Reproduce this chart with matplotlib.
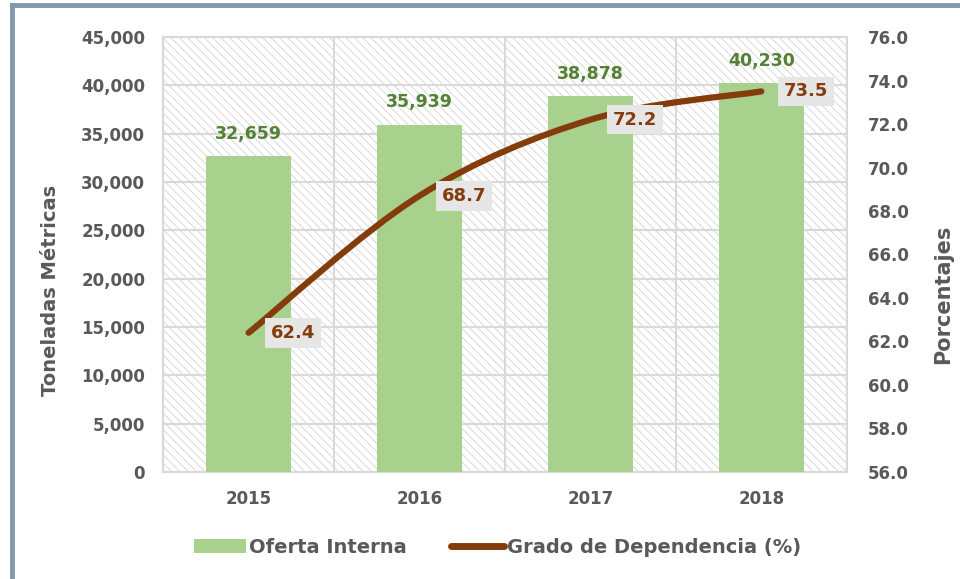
import matplotlib
matplotlib.use('Agg')
from matplotlib import pyplot as plt
from matplotlib.patches import Rectangle, Patch
from matplotlib.lines import Line2D
from matplotlib.path import Path
from matplotlib.patches import PathPatch

# datos
anios = ['2015', '2016', '2017', '2018']
oferta = [32659, 35939, 38878, 40230]
dependencia = [62.4, 68.7, 72.2, 73.5]

verde = '#a9d18e'
verde_txt = '#548235'
cafe = '#843c0c'
gris_txt = '#595959'
gris_grid = '#d9d9d9'

plt.rcParams['font.family'] = ['DejaVu Sans']
plt.rcParams['hatch.linewidth'] = 0.6
plt.rcParams['hatch.color'] = '#d2d2d2'


def curva_suave(xs, ys):
    # curva tipo Excel (Catmull-Rom -> Bezier)
    pts = list(zip(xs, ys))
    verts = [pts[0]]
    codes = [Path.MOVETO]
    n = len(pts)
    for i in range(n - 1):
        p0 = pts[i - 1] if i > 0 else pts[i]
        p1 = pts[i]
        p2 = pts[i + 1]
        p3 = pts[i + 2] if i + 2 < n else pts[i + 1]
        c1 = (p1[0] + (p2[0] - p0[0]) / 6, p1[1] + (p2[1] - p0[1]) / 6)
        c2 = (p2[0] - (p3[0] - p1[0]) / 6, p2[1] - (p3[1] - p1[1]) / 6)
        verts += [c1, c2, p2]
        codes += [Path.CURVE4] * 3
    return Path(verts, codes)


def main():
    fig = plt.figure(figsize=(9.6, 5.79), dpi=100)
    ax = fig.add_axes([0.170, 0.185, 0.712, 0.751])
    x = list(range(len(anios)))

    # fondo rayado
    ax.add_patch(Rectangle((0, 0), 1, 1, transform=ax.transAxes, facecolor='white',
                           edgecolor='#d2d2d2', hatch='\\\\\\\\', lw=0, zorder=0))

    ax.bar(x, oferta, width=0.5, color=verde, zorder=3)
    for xi, v in zip(x, oferta):
        ax.annotate(f'{v:,}', (xi, v), xytext=(0, 16), textcoords='offset points',
                    ha='center', va='center', color=verde_txt, fontsize=12.5,
                    fontweight='bold', zorder=5)

    ax.set_xlim(-0.5, 3.5)
    ax.set_ylim(0, 45000)
    ax.set_yticks(range(0, 45001, 5000))
    ax.set_yticklabels([f'{v:,}' for v in range(0, 45001, 5000)])
    ax.set_xticks(x)
    ax.set_xticklabels(anios)
    ax.set_xticks([-0.5, 0.5, 1.5, 2.5, 3.5], minor=True)
    ax.grid(True, axis='y', color=gris_grid, lw=1.5, zorder=1)
    ax.grid(True, axis='x', which='minor', color=gris_grid, lw=1.5, zorder=1)
    ax.set_axisbelow(True)
    ax.tick_params(axis='both', which='both', length=0, colors=gris_txt, labelsize=12)
    ax.tick_params(axis='y', pad=13)
    ax.tick_params(axis='x', pad=13)
    for lab in ax.get_xticklabels() + ax.get_yticklabels():
        lab.set_fontweight('bold')
    for s in ax.spines.values():
        s.set_color(gris_grid)
        s.set_linewidth(1.5)

    ax2 = ax.twinx()
    ax2.set_ylim(56, 76)
    ax2.set_yticks([56 + 2 * i for i in range(11)])
    ax2.set_yticklabels([f'{56 + 2 * i:.1f}' for i in range(11)])
    ax2.tick_params(axis='y', length=0, colors=gris_txt, labelsize=12, pad=15)
    for lab in ax2.get_yticklabels():
        lab.set_fontweight('bold')
    for s in ax2.spines.values():
        s.set_visible(False)

    # titulos de ejes (posicion como en el original)
    fig.text(51 / 960, 1 - 290 / 579, 'Toneladas Métricas', rotation=90, ha='center',
             va='center', fontsize=14, fontweight='bold', color=gris_txt)
    fig.text(943 / 960, 1 - 294 / 579, 'Porcentajes', rotation=90, ha='center',
             va='center', fontsize=15, fontweight='bold', color=gris_txt)

    ax2.add_patch(PathPatch(curva_suave(x, dependencia), facecolor='none', edgecolor=cafe,
                            lw=4.5, capstyle='round', joinstyle='round', zorder=4))
    for xi, v in zip(x, dependencia):
        ax2.annotate(f'{v:.1f}', (xi, v), xytext=(16, 0), textcoords='offset points',
                     ha='left', va='center', color=cafe, fontsize=13, fontweight='bold',
                     bbox=dict(boxstyle='square,pad=0.32', facecolor='#e7e6e6', edgecolor='none'),
                     zorder=6)

    handles = [Patch(facecolor=verde, edgecolor='none'),
               Line2D([0], [0], color=cafe, lw=5, solid_capstyle='round')]
    leg = fig.legend(handles, ['Oferta Interna', 'Grado de Dependencia (%)'], loc='center',
                     bbox_to_anchor=(0.518, 0.055), ncol=2, frameon=False, fontsize=14,
                     handlelength=2.7, handletextpad=0.15, columnspacing=2.3)
    for t in leg.get_texts():
        t.set_fontweight('bold')
        t.set_color(gris_txt)

    # marco
    fig.add_artist(Line2D([0.0125, 0.0125], [0, 0.992], color='#8497b0', lw=3.5,
                          transform=fig.transFigure))
    fig.add_artist(Line2D([0.0125, 1.0], [0.992, 0.992], color='#8497b0', lw=3.5,
                          transform=fig.transFigure))

    fig.savefig('out.png', dpi=100)


if __name__ == '__main__':
    main()
